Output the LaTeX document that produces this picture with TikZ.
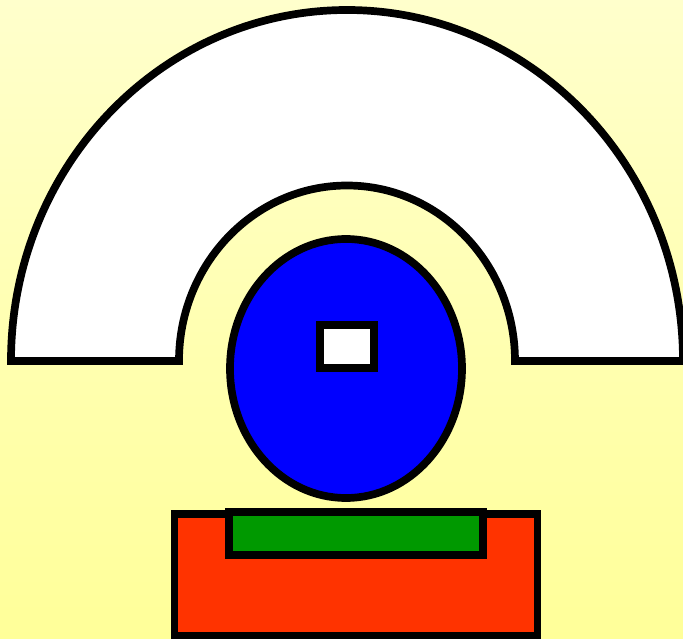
\documentclass[tikz,border=0pt]{standalone}
\begin{document}
\begin{tikzpicture}[x=1pt,y=1pt,
  outline/.style={draw=black,line width=7.7pt,line join=miter},
]
\definecolor{bgtop}{HTML}{FFFFCC}
\definecolor{bgbot}{HTML}{FFFF99}
\definecolor{myblue}{HTML}{0000FF}
\definecolor{mygreen}{HTML}{009900}
\definecolor{myred}{HTML}{FF3300}
\shade[top color=bgtop,bottom color=bgbot] (0,0) rectangle (683,638);
\useasboundingbox (0,0) rectangle (683,638);
% half annulus
\draw[outline,fill=white] (11,277) arc[start angle=180,end angle=0,x radius=336,y radius=351]
  -- (515,277) arc[start angle=0,end angle=180,x radius=168,y radius=175.5] -- cycle;
% blue ellipse
\draw[outline,fill=myblue] (346,269.5) ellipse[x radius=116,y radius=129.5];
% small white rectangle
\draw[outline,fill=white] (320,270) rectangle (374,313);
% red base
\draw[outline,fill=myred] (174.5,2.5) rectangle (537.5,124);
% green bar
\draw[outline,fill=mygreen] (229,83) rectangle (483.3,126);
\end{tikzpicture}
\end{document}
